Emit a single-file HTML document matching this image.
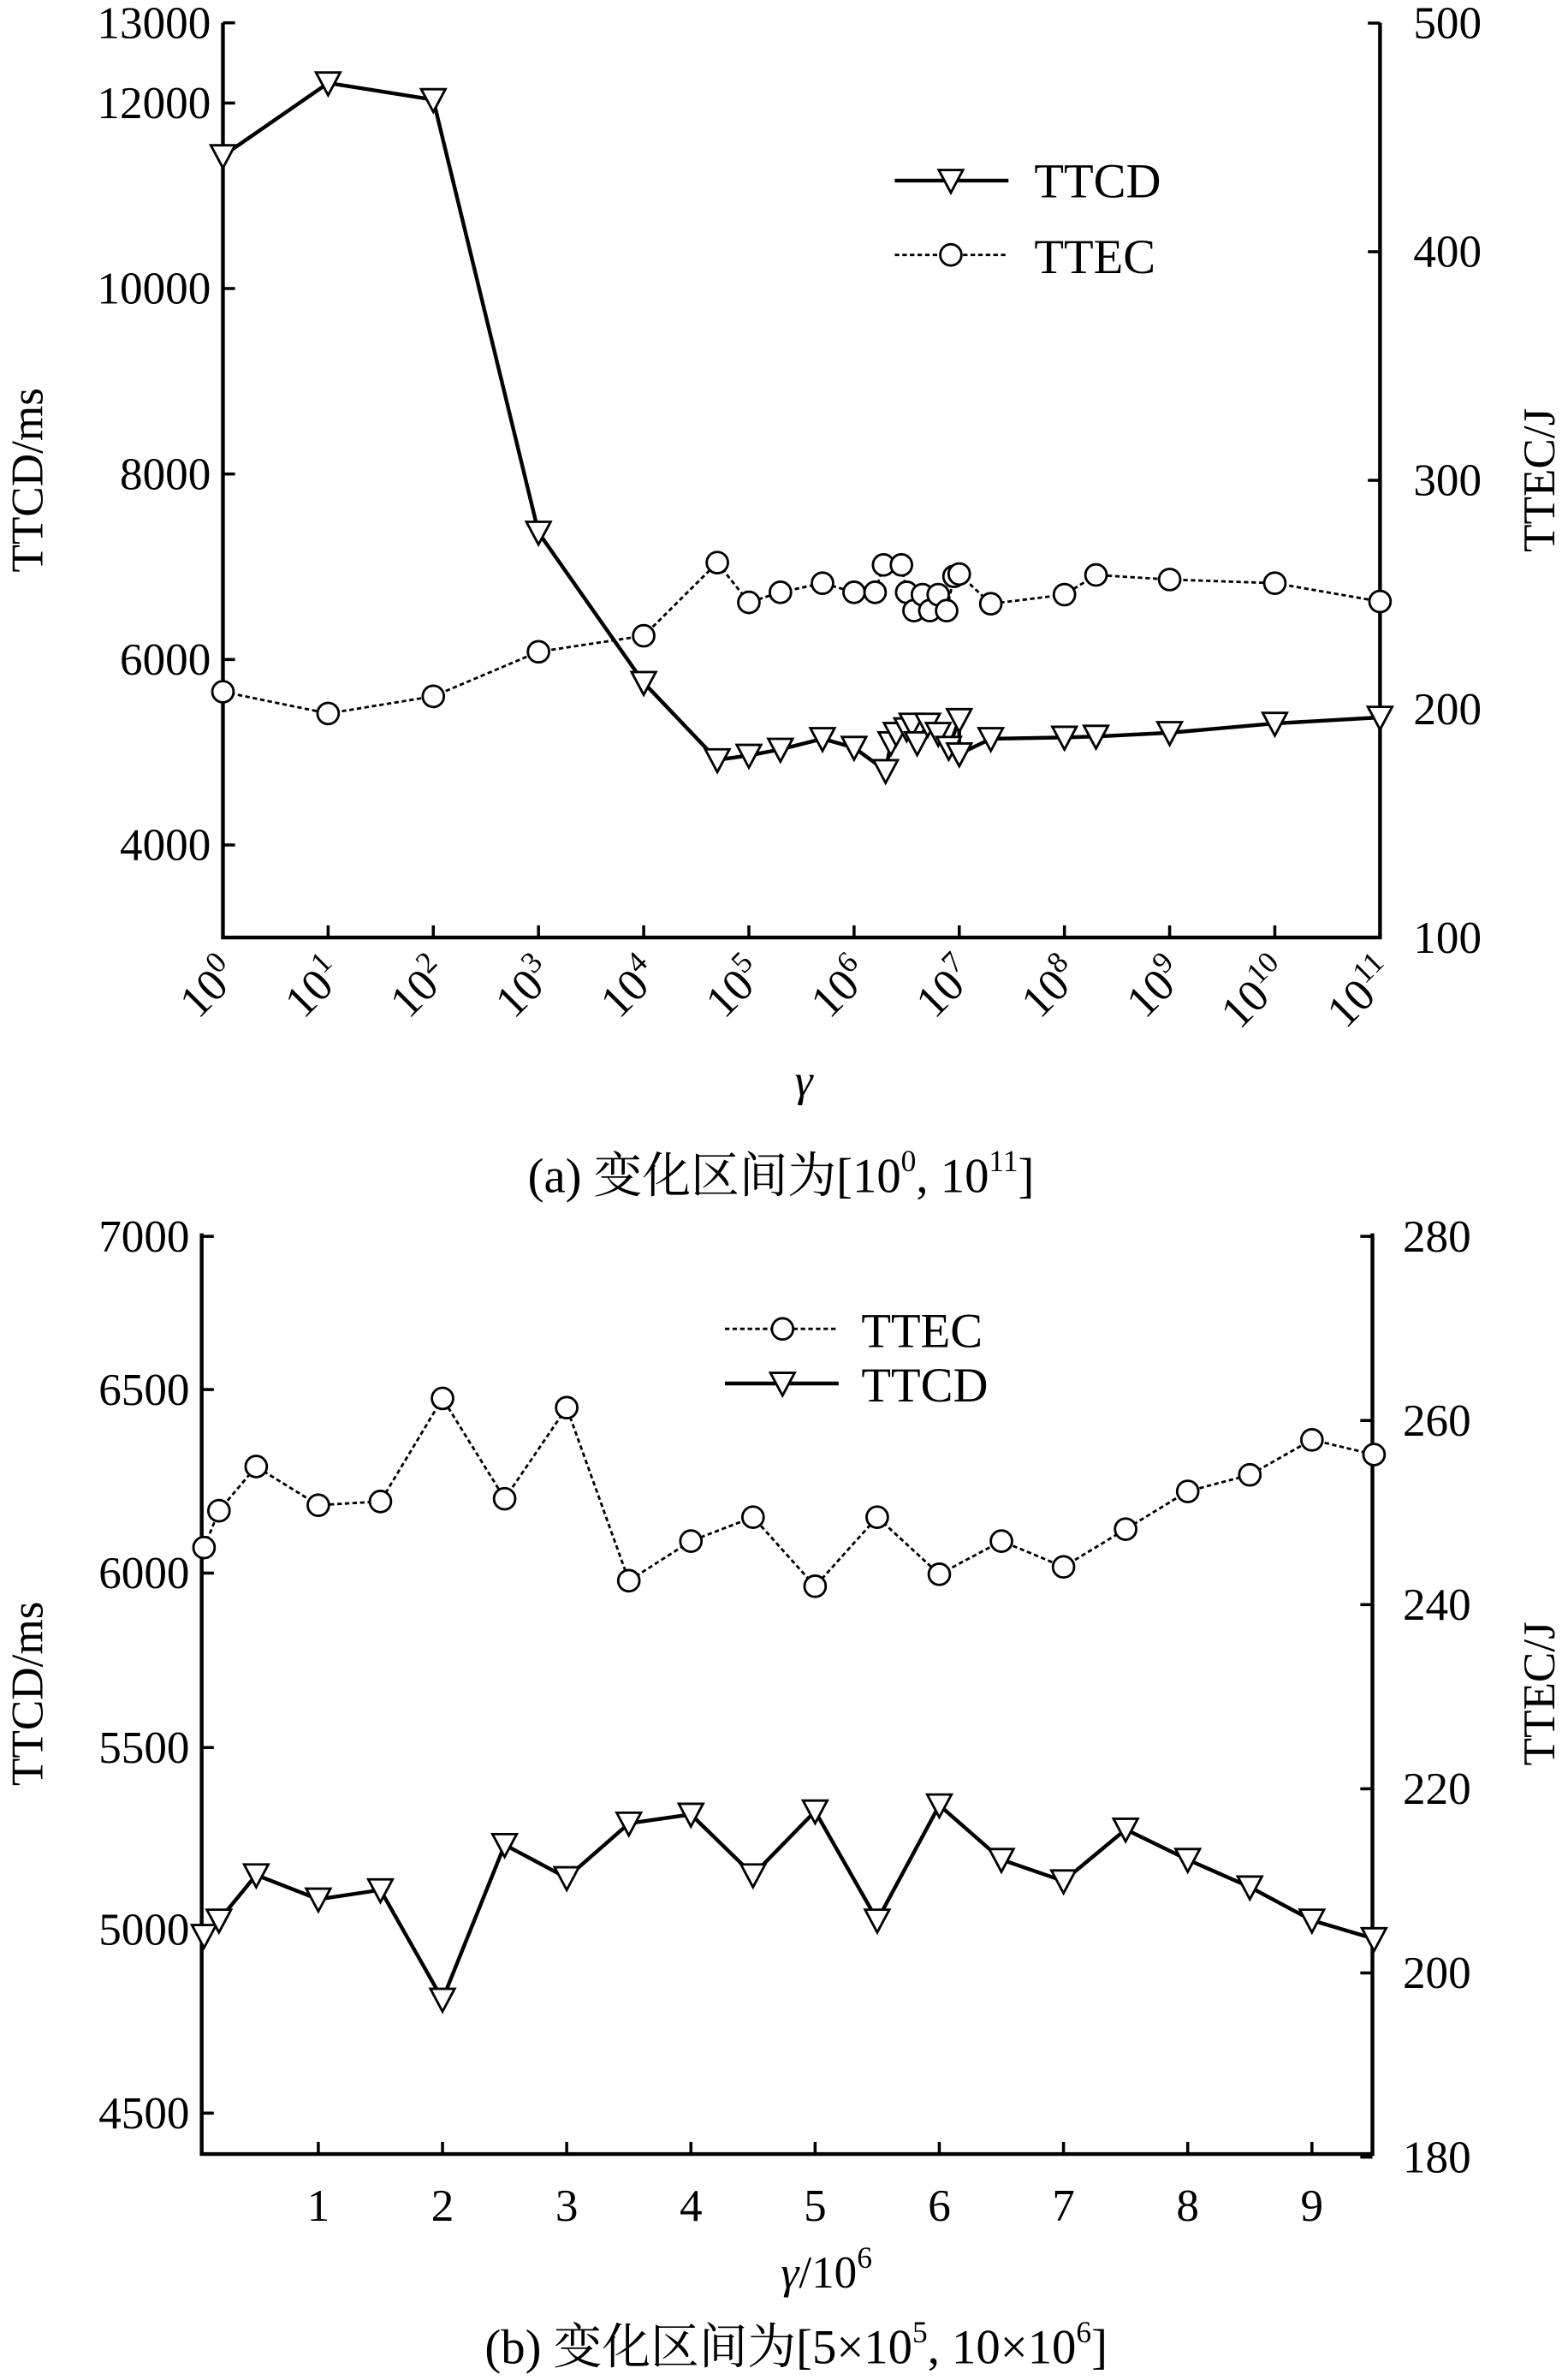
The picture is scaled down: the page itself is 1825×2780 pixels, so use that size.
<!DOCTYPE html>
<html><head><meta charset="utf-8">
<style>
html,body{margin:0;padding:0;background:#fff;}
svg{display:block;}
text{font-family:"Liberation Serif","Noto Serif CJK SC",serif;fill:#000;}
</style></head>
<body>
<svg id="root" width="1825" height="2780" viewBox="0 0 1030 1568.9" xmlns="http://www.w3.org/2000/svg">
<g id="ca"></g>
<g id="cb"></g>
</svg>
<script>
// ---- Chart (a) data ----
const aTtcdX = [0,1,2,3,4,4.7,5,5.3,5.7,6,6.3,6.35,6.4,6.5,6.55,6.6,6.7,6.8,6.9,7.0,7.0,7.3,8,8.3,9,10,11];
const aTtcdY = [11430,12215,12035,7370,5750,4917,4965,5030,5145,5050,4800,5100,5200,5250,5300,5100,5300,5200,5050,5350,4980,5145,5160,5170,5210,5310,5375];
const aTtecX = [0,1,2,3,4,4.7,5,5.3,5.7,6,6.2,6.28,6.45,6.5,6.57,6.65,6.72,6.8,6.88,6.95,7.0,7.3,8,8.3,9,10,11];
const aTtecY = [207.5,198,205.5,225,232,264,246.6,251,255,251,251,263,263,251,243,250,243,250,243,258,259,246,250,258.6,256.6,255,247];
const aLeftTicks = [4000,6000,8000,10000,12000,13000];
const aRightTicks = [100,200,300,400,500];
const aXTicks = [0,1,2,3,4,5,6,7,8,9,10,11];
// ---- Chart (b) data ----
const bX = [0.08,0.2,0.5,1,1.5,2,2.5,3,3.5,4,4.5,5,5.5,6,6.5,7,7.5,8,8.5,9,9.5];
const bTtec = [246.2,250.2,255,250.8,251.2,262.4,251.5,261.4,242.6,246.9,249.5,242,249.5,243.3,246.9,244.1,248.2,252.3,254.1,257.9,256.3];
const bTtcd = [4983,5026,5153,5085,5111,4804,5238,5145,5298,5323,5153,5332,5026,5349,5196,5136,5281,5196,5119,5026,4974];
const bLeftTicks = [4500,5000,5500,6000,6500,7000];
const bRightTicks = [180,200,220,240,260,280];
const bXTicks = [1,2,3,4,5,6,7,8,9];

const NS="http://www.w3.org/2000/svg";
function mk(parent,tag,attrs,txt){const e=document.createElementNS(NS,tag);for(const k in attrs)e.setAttribute(k,attrs[k]);if(txt!==undefined)e.textContent=txt;parent.appendChild(e);return e;}
function tri(g,x,y){return mk(g,'polygon',{points:`${x-8},${y-7} ${x+8},${y-7} ${x},${y+8}`,fill:'#fff',stroke:'#000','stroke-width':1.6});}
function circ(g,x,y){return mk(g,'circle',{cx:x,cy:y,r:7,fill:'#fff',stroke:'#000','stroke-width':1.6});}
function path(pts){return pts.map((p,i)=>(i?'L':'M')+p[0].toFixed(1)+','+p[1].toFixed(1)).join(' ');}

// ===== Chart A =====
(function(){
const g=document.getElementById('ca');
const L=147,R=910,T=15,B=618;
const xs=v=>L+(R-L)*v/11;
const yl=v=>557-(v-4000)*0.06114;
const yr=v=>B-(v-100)*1.507;
let e=mk(g,'path',{d:`M${L},${T} L${L},${B} L${R},${B} L${R},${T}`,fill:'none',stroke:'#000','stroke-width':2.5});

aLeftTicks.forEach(v=>{const y=v===13000?15:yl(v);
 mk(g,'line',{x1:L,y1:y,x2:L+8,y2:y,stroke:'#000','stroke-width':2});
 const t=mk(g,'text',{x:L-8,y:y+10,'text-anchor':'end','font-size':30},v);
 });
aRightTicks.forEach(v=>{const y=yr(v);
 mk(g,'line',{x1:R,y1:y,x2:R-8,y2:y,stroke:'#000','stroke-width':2});
 const t=mk(g,'text',{x:R+22,y:y+10,'font-size':30},v);
 });
aXTicks.forEach(v=>{const x=xs(v);
 mk(g,'line',{x1:x,y1:B,x2:x,y2:B-8,stroke:'#000','stroke-width':2});
 const t=mk(g,'text',{x:0,y:0,'font-size':30,'text-anchor':'end',transform:`translate(${x+12},${B+26}) rotate(-45)`});
 
 mk(t,'tspan',{},'10');mk(t,'tspan',{'font-size':20,dy:-12},String(v));});
let t=mk(g,'text',{x:0,y:0,'font-size':30,'text-anchor':'middle',transform:`translate(28,${(T+B)/2}) rotate(-90)`},'TTCD/ms');

t=mk(g,'text',{x:0,y:0,'font-size':30,'text-anchor':'middle',transform:`translate(1025,${(T+B)/2}) rotate(-90)`},'TTEC/J');

t=mk(g,'text',{x:530,y:722,'font-size':30,'font-style':'italic','text-anchor':'middle'},'γ');

t=mk(g,'text',{x:515,y:786,'font-size':32,'text-anchor':'middle'});

mk(t,'tspan',{},'(a) 变化区间为[10');mk(t,'tspan',{'font-size':20,dy:-14},'0');mk(t,'tspan',{dy:14},', 10');mk(t,'tspan',{'font-size':20,dy:-14},'11');mk(t,'tspan',{dy:14},']');
// TTEC
const ptsE=aTtecX.map((x,i)=>[xs(x),yr(aTtecY[i])]);
e=mk(g,'path',{d:path(ptsE),fill:'none',stroke:'#000','stroke-width':1.6,'stroke-dasharray':'3,2'});

ptsE.forEach(p=>{const c=circ(g,p[0],p[1]);});
// TTCD
const ptsD=aTtcdX.map((x,i)=>[xs(x),yl(aTtcdY[i])]);
e=mk(g,'path',{d:path(ptsD),fill:'none',stroke:'#000','stroke-width':2.5});

ptsD.forEach(p=>{const c=tri(g,p[0],p[1]);});
// legend
const lg=mk(g,'g',{});
mk(lg,'line',{x1:590,y1:119,x2:665,y2:119,stroke:'#000','stroke-width':2.5});tri(lg,627,119);
mk(lg,'text',{x:682,y:130,'font-size':32},'TTCD');
mk(lg,'line',{x1:590,y1:168,x2:665,y2:168,stroke:'#000','stroke-width':1.6,'stroke-dasharray':'3,2'});circ(lg,627,168);
mk(lg,'text',{x:682,y:180,'font-size':32},'TTEC');
})();

// ===== Chart B =====
(function(){
const g=document.getElementById('cb');
const L=133,R=905,T=813,B=1420;
const xs=v=>128+81.9*v;
const yl=v=>1272-(v-5000)*0.235;
const yr=v=>1422-(v-180)*6.07;
const leftPos={4500:1393,5000:1272,5500:1152,6000:1037,6500:916,7000:815};
let e=mk(g,'path',{d:`M${L},${T} L${L},${B} L${R},${B} L${R},${T}`,fill:'none',stroke:'#000','stroke-width':2.5});

bLeftTicks.forEach(v=>{const y=leftPos[v]!==undefined?leftPos[v]:yl(v);
 mk(g,'line',{x1:L,y1:y,x2:L+8,y2:y,stroke:'#000','stroke-width':2});
 const t=mk(g,'text',{x:L-8,y:y+10,'text-anchor':'end','font-size':30},v);
 });
bRightTicks.forEach(v=>{const y=yr(v);
 mk(g,'line',{x1:R,y1:y,x2:R-8,y2:y,stroke:'#000','stroke-width':2});
 const t=mk(g,'text',{x:R+20,y:y+10,'font-size':30},v);
 });
bXTicks.forEach(v=>{const x=xs(v);
 mk(g,'line',{x1:x,y1:B,x2:x,y2:B-8,stroke:'#000','stroke-width':2});
 const t=mk(g,'text',{x:x,y:B+44,'font-size':30,'text-anchor':'middle'},v);
 });
let t=mk(g,'text',{x:0,y:0,'font-size':30,'text-anchor':'middle',transform:`translate(28,${(T+B)/2}) rotate(-90)`},'TTCD/ms');

t=mk(g,'text',{x:0,y:0,'font-size':30,'text-anchor':'middle',transform:`translate(1025,${(T+B)/2}) rotate(-90)`},'TTEC/J');

t=mk(g,'text',{x:545,y:1508,'font-size':30,'text-anchor':'middle'});

mk(t,'tspan',{'font-style':'italic'},'γ');mk(t,'tspan',{},'/10');mk(t,'tspan',{'font-size':20,dy:-13},'6');
t=mk(g,'text',{x:525,y:1558,'font-size':32,'text-anchor':'middle'});

mk(t,'tspan',{},'(b) 变化区间为[5×10');mk(t,'tspan',{'font-size':20,dy:-14},'5');mk(t,'tspan',{dy:14},', 10×10');mk(t,'tspan',{'font-size':20,dy:-14},'6');mk(t,'tspan',{dy:14},']');
const ptsE=bX.map((x,i)=>[xs(x),yr(bTtec[i])]);
e=mk(g,'path',{d:path(ptsE),fill:'none',stroke:'#000','stroke-width':1.6,'stroke-dasharray':'3,2'});

ptsE.forEach(p=>{const c=circ(g,p[0],p[1]);});
const ptsD=bX.map((x,i)=>[xs(x),yl(bTtcd[i])]);
e=mk(g,'path',{d:path(ptsD),fill:'none',stroke:'#000','stroke-width':2.5});

ptsD.forEach(p=>{const c=tri(g,p[0],p[1]);});
const lg=mk(g,'g',{});
mk(lg,'line',{x1:478,y1:876,x2:553,y2:876,stroke:'#000','stroke-width':1.6,'stroke-dasharray':'3,2'});circ(lg,516,876);
mk(lg,'text',{x:568,y:888,'font-size':32},'TTEC');
mk(lg,'line',{x1:478,y1:912,x2:553,y2:912,stroke:'#000','stroke-width':2.5});tri(lg,516,912);
mk(lg,'text',{x:568,y:924,'font-size':32},'TTCD');
})();
</script>
</body></html>
